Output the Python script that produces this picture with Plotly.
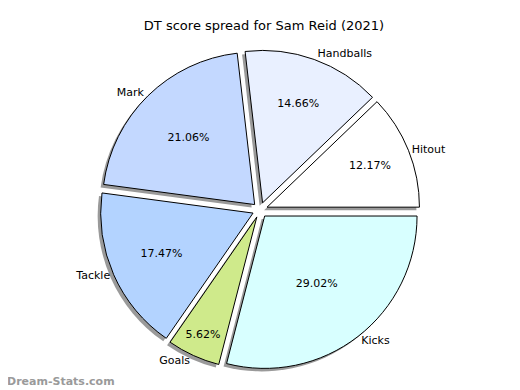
import plotly.graph_objects as go

labels = ["Hitout", "Handballs", "Mark", "Tackle", "Goals", "Kicks"]
values = [12.17, 14.66, 21.06, 17.47, 5.62, 29.02]
colors = ["#ffffff", "#e9f0ff", "#c3d8ff", "#b3d3ff", "#cfea8b", "#d8ffff"]
pulls = [0.05, 0.05, 0.05, 0.05, 0.05, 0.05]

# page shows the figure with an 8px body margin; size it to fit the 520x390 window
W, H = 512, 382
cx, cy, half = 252, 202, 160

# start first slice at 3 o'clock going counterclockwise (plotly offsets by the first slice)
rot = 90 - values[0] / sum(values) * 360


def dom(dx=0, dy=0):
    x0 = (cx - half + dx) / W
    x1 = (cx + half + dx) / W
    y0 = (H - (cy + half + dy)) / H
    y1 = (H - (cy - half + dy)) / H
    return dict(x=[x0, x1], y=[y0, y1])


common = dict(labels=labels, values=values, sort=False, direction="counterclockwise",
              rotation=rot, pull=pulls, hoverinfo="skip", showlegend=False)

fig = go.Figure()
# shadow
fig.add_trace(go.Pie(**common, domain=dom(-3, 3),
                     marker=dict(colors=["#9a9a9a"] * len(values), line=dict(width=0)),
                     textinfo="none"))
# main slices with percentages
fig.add_trace(go.Pie(**common, domain=dom(),
                     marker=dict(colors=colors, line=dict(color="#000000", width=1)),
                     texttemplate="%{percent:.2%}", textposition="inside",
                     insidetextorientation="horizontal",
                     textfont=dict(family="DejaVu Sans", size=11, color="#000000")))
# outside labels
fig.add_trace(go.Pie(**common, domain=dom(),
                     marker=dict(colors=["rgba(0,0,0,0)"] * len(values), line=dict(width=0)),
                     textinfo="label", textposition="outside",
                     outsidetextfont=dict(family="DejaVu Sans", size=11, color="#000000")))

fig.update_layout(
    width=W, height=H,
    margin=dict(l=0, r=0, t=0, b=0),
    paper_bgcolor="#ffffff", plot_bgcolor="#ffffff",
    title=dict(text="DT score spread for Sam Reid (2021)", x=0.5, xanchor="center",
               y=1 - 17 / H, yanchor="middle", yref="container",
               font=dict(family="DejaVu Sans", size=13, color="#000000")),
    annotations=[dict(text="<b>Dream-Stats.com</b>", x=0, y=0, xref="paper", yref="paper",
                      xanchor="left", yanchor="bottom", showarrow=False, xshift=-3, yshift=0,
                      font=dict(family="DejaVu Sans", size=11, color="#9a9a9a"))],
)

fig.write_html("out.html")
